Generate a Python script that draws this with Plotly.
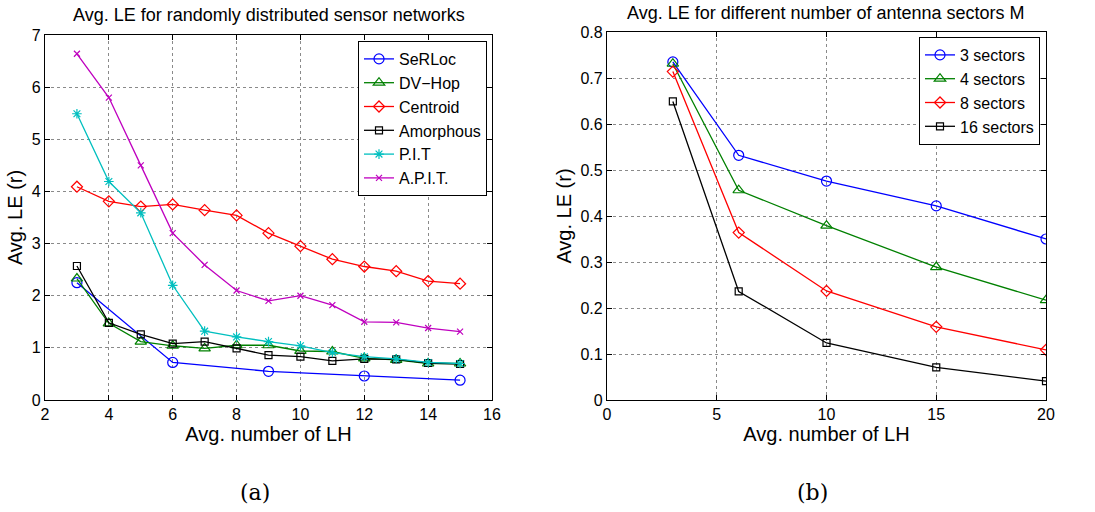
import plotly.graph_objects as go

# ---- panel (a): randomly distributed sensor networks ----
lh_a = [3, 4, 5, 6, 7, 8, 9, 10, 11, 12, 13, 14, 15]
lh_serloc = [3, 6, 9, 12, 15]
serloc = [2.25, 0.72, 0.55, 0.46, 0.38]
dvhop = [2.33, 1.47, 1.12, 1.04, 0.99, 1.05, 1.05, 0.94, 0.93, 0.80, 0.77, 0.70, 0.70]
centroid = [4.09, 3.81, 3.71, 3.75, 3.64, 3.54, 3.20, 2.95, 2.70, 2.56, 2.47, 2.28, 2.23]
amorphous = [2.57, 1.48, 1.26, 1.08, 1.12, 0.99, 0.86, 0.83, 0.75, 0.79, 0.78, 0.71, 0.69]
pit = [5.49, 4.19, 3.59, 2.20, 1.32, 1.21, 1.12, 1.04, 0.91, 0.83, 0.79, 0.72, 0.70]
apit = [6.64, 5.80, 4.50, 3.20, 2.59, 2.10, 1.90, 2.00, 1.82, 1.50, 1.49, 1.38, 1.31]

# ---- panel (b): number of antenna sectors M ----
lh_b = [3, 6, 10, 15, 20]
sec3 = [0.735, 0.532, 0.476, 0.422, 0.350]
sec4 = [0.731, 0.456, 0.379, 0.289, 0.217]
sec8 = [0.714, 0.364, 0.237, 0.159, 0.109]
sec16 = [0.649, 0.236, 0.124, 0.071, 0.041]

BLUE, GREEN, RED, BLACK, CYAN, MAGENTA = "#0000ff", "#008000", "#ff0000", "#000000", "#00bfbf", "#bf00bf"
FONT = "Liberation Sans, Arial, Helvetica, sans-serif"
SERIF = "DejaVu Serif, Liberation Serif, serif"

fig = go.Figure()


def add(x, y, name, color, symbol, size, xaxis, yaxis, legend):
    fig.add_trace(go.Scatter(
        x=x, y=y, name=name, mode="lines+markers",
        line=dict(color=color, width=1.3),
        marker=dict(symbol=symbol, size=size, color=color,
                    line=dict(color=color, width=1.2)),
        xaxis=xaxis, yaxis=yaxis, legend=legend,
    ))


add(lh_serloc, serloc, "SeRLoc", BLUE, "circle-open", 10, "x", "y", "legend")
add(lh_a, dvhop, "DV\u2212Hop", GREEN, "triangle-up-open", 10, "x", "y", "legend")
add(lh_a, centroid, "Centroid", RED, "diamond-open", 8.5, "x", "y", "legend")
add(lh_a, amorphous, "Amorphous", BLACK, "square-open", 7, "x", "y", "legend")
add(lh_a, pit, "P.I.T", CYAN, "asterisk-open", 8, "x", "y", "legend")
add(lh_a, apit, "A.P.I.T.", MAGENTA, "x-thin-open", 6, "x", "y", "legend")

add(lh_b, sec3, "3 sectors", BLUE, "circle-open", 10, "x2", "y2", "legend2")
add(lh_b, sec4, "4 sectors", GREEN, "triangle-up-open", 10, "x2", "y2", "legend2")
add(lh_b, sec8, "8 sectors", RED, "diamond-open", 8.5, "x2", "y2", "legend2")
add(lh_b, sec16, "16 sectors", BLACK, "square-open", 7, "x2", "y2", "legend2")

W, H = 1095, 512


def px_x(p):
    return p / W


def px_y(p):
    return 1 - p / H


axis_common = dict(
    automargin=False,
    showline=True, linecolor="black", linewidth=1.3, mirror="ticks",
    ticks="inside", ticklen=5, tickcolor="black",
    showgrid=True, gridcolor="#8a8a8a", griddash="dot", gridwidth=1,
    zeroline=False, tickfont=dict(family=FONT, size=16, color="black"),
)
title_font = dict(family=FONT, size=20, color="black")
legend_common = dict(
    xanchor="right", yanchor="top",
    bgcolor="white", bordercolor="black", borderwidth=1,
    font=dict(family=FONT, size=16, color="black"),
    tracegroupgap=0,
)

fig.update_layout(
    template="none",
    width=W, height=H, margin=dict(l=0, r=0, t=0, b=0, pad=0, autoexpand=False),
    paper_bgcolor="white", plot_bgcolor="white",
    font=dict(family=FONT, color="black"),
    xaxis=dict(axis_common, domain=[px_x(45), px_x(492)], range=[2, 16], dtick=2,
               anchor="y", title=dict(text="Avg. number of LH", font=title_font, standoff=1)),
    yaxis=dict(axis_common, domain=[px_y(400), px_y(35)], range=[0, 7], dtick=1,
               anchor="x", title=dict(text="Avg. LE (r)", font=title_font, standoff=3)),
    xaxis2=dict(axis_common, domain=[px_x(607), px_x(1046)], range=[0, 20], dtick=5,
                anchor="y2", title=dict(text="Avg. number of LH", font=title_font, standoff=1)),
    yaxis2=dict(axis_common, domain=[px_y(400), px_y(32)], range=[0, 0.8], dtick=0.1,
                anchor="x2", title=dict(text="Avg. LE (r)", font=title_font, standoff=3)),
    legend=dict(legend_common, x=px_x(487), y=px_y(41)),
    legend2=dict(legend_common, x=px_x(1040), y=px_y(37)),
    showlegend=True,
    annotations=[
        dict(text="Avg. LE for randomly distributed sensor networks", x=px_x(268.5), y=px_y(15),
             xref="paper", yref="paper", showarrow=False, xanchor="center", yanchor="middle",
             font=dict(family=FONT, size=18, color="black")),
        dict(text="Avg. LE for different number of antenna sectors M", x=px_x(826), y=px_y(13),
             xref="paper", yref="paper", showarrow=False, xanchor="center", yanchor="middle",
             font=dict(family=FONT, size=18, color="black")),
        dict(text="(a)", x=px_x(255), y=px_y(492), xref="paper", yref="paper", showarrow=False,
             xanchor="center", yanchor="middle", font=dict(family=SERIF, size=22, color="black")),
        dict(text="(b)", x=px_x(812), y=px_y(492), xref="paper", yref="paper", showarrow=False,
             xanchor="center", yanchor="middle", font=dict(family=SERIF, size=22, color="black")),
    ],
)

fig.write_html("out.html")
